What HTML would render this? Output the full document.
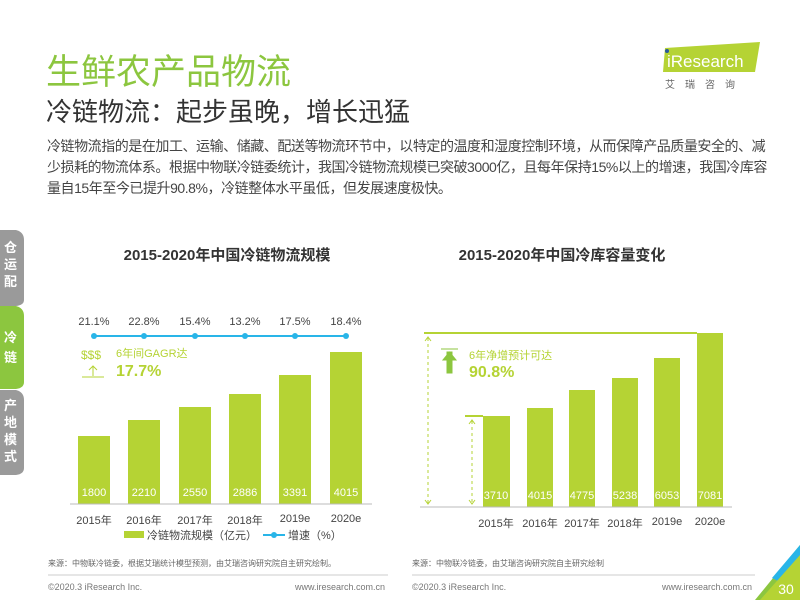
<!DOCTYPE html>
<html><head><meta charset="utf-8"><style>
body{margin:0;width:800px;height:600px;background:#fff;position:relative;overflow:hidden;font-family:"Liberation Sans","Noto Sans CJK SC",sans-serif;}
.a{position:absolute;white-space:nowrap}
</style></head><body>
<div class="a" style="left:46px;top:44px;font-size:35px;color:#8cc63f;">生鲜农产品物流</div>
<div class="a" style="left:46px;top:92px;font-size:26px;color:#333;">冷链物流：起步虽晚，增长迅猛</div>
<div class="a" style="left:47px;top:136px;font-size:14px;letter-spacing:-0.45px;color:#444;line-height:21px;">冷链物流指的是在加工、运输、储藏、配送等物流环节中，以特定的温度和湿度控制环境，从而保障产品质量安全的、减<br>少损耗的物流体系。根据中物联冷链委统计，我国冷链物流规模已突破3000亿，且每年保持15%以上的增速，我国冷库容<br>量自15年至今已提升90.8%，冷链整体水平虽低，但发展速度极快。</div>
<svg class="a" style="left:0;top:0" width="800" height="600">
<polygon points="665,48 760,42 755,72 663,72" fill="#b5d334"/>
<text x="667" y="67" font-size="17" fill="#fff" font-family="Liberation Sans">iResearch</text>
<circle cx="667" cy="51" r="2" fill="#2a5a9a"/>
<text x="665" y="88" font-size="10" fill="#666" letter-spacing="10">艾瑞咨询</text>
<path d="M0 230 H16 Q24 232 24 240 V300 Q24 305 16 306 H0Z" fill="#9a9a9a"/>
<path d="M0 306 H16 Q24 308 24 316 V382 Q24 388 16 389 H0Z" fill="#8cc63f"/>
<path d="M0 390 H16 Q24 392 24 400 V468 Q24 474 16 475 H0Z" fill="#9a9a9a"/>
<g font-size="13" fill="#fff" font-weight="bold">
<text x="4" y="252">仓</text><text x="4" y="269">运</text><text x="4" y="286">配</text>
<text x="4" y="342">冷</text><text x="4" y="362">链</text>
<text x="4" y="410">产</text><text x="4" y="427">地</text><text x="4" y="444">模</text><text x="4" y="461">式</text>
</g>
<text x="227" y="260" font-size="15" font-weight="bold" fill="#333" text-anchor="middle">2015-2020年中国冷链物流规模</text>
<g fill="#b5d334">
<rect x="78" y="436" width="32" height="68"/><rect x="128" y="420" width="32" height="84"/>
<rect x="179" y="407" width="32" height="97"/><rect x="229" y="394" width="32" height="110"/>
<rect x="279" y="375" width="32" height="129"/><rect x="330" y="352" width="32" height="152"/>
</g>
<line x1="70" y1="504" x2="372" y2="504" stroke="#bbb"/>
<g font-size="11" fill="#fff" text-anchor="middle">
<text x="94" y="496">1800</text><text x="144" y="496">2210</text><text x="195" y="496">2550</text><text x="245" y="496">2886</text><text x="295" y="496">3391</text><text x="346" y="496">4015</text>
</g>
<g font-size="11" fill="#444" text-anchor="middle">
<text x="94" y="524">2015年</text><text x="144" y="524">2016年</text><text x="195" y="524">2017年</text><text x="245" y="524">2018年</text><text x="295" y="522">2019e</text><text x="346" y="522">2020e</text>
<text x="94" y="325">21.1%</text><text x="144" y="325">22.8%</text><text x="195" y="325">15.4%</text><text x="245" y="325">13.2%</text><text x="295" y="325">17.5%</text><text x="346" y="325">18.4%</text>
</g>
<line x1="94" y1="336" x2="346" y2="336" stroke="#29b5e8" stroke-width="2"/>
<g fill="#29b5e8"><circle cx="94" cy="336" r="3"/><circle cx="144" cy="336" r="3"/><circle cx="195" cy="336" r="3"/><circle cx="245" cy="336" r="3"/><circle cx="295" cy="336" r="3"/><circle cx="346" cy="336" r="3"/></g>
<text x="81" y="359" font-size="12" fill="#b5d334">$$$</text>
<path d="M82 377 H104 M93 376 V366 M89 370 L93 366 L97 370" stroke="#b5d334" fill="none"/>
<text x="116" y="357" font-size="11" fill="#b5d334">6年间GAGR达</text>
<text x="116" y="376" font-size="16" font-weight="bold" fill="#b5d334">17.7%</text>
<rect x="124" y="531" width="20" height="7" fill="#b5d334"/>
<text x="147" y="539" font-size="11" fill="#444">冷链物流规模（亿元）</text>
<line x1="263" y1="535" x2="285" y2="535" stroke="#29b5e8" stroke-width="2"/><circle cx="274" cy="535" r="3" fill="#29b5e8"/>
<text x="288" y="539" font-size="11" fill="#444">增速（%）</text>
<text x="48" y="566" font-size="8" fill="#666">来源：中物联冷链委，根据艾瑞统计模型预测，由艾瑞咨询研究院自主研究绘制。</text>
<line x1="48" y1="575" x2="388" y2="575" stroke="#ccc"/>
<text x="48" y="590" font-size="9" fill="#777">©2020.3 iResearch Inc.</text>
<text x="385" y="590" font-size="9" fill="#777" text-anchor="end">www.iresearch.com.cn</text>
<text x="562" y="260" font-size="15" font-weight="bold" fill="#333" text-anchor="middle">2015-2020年中国冷库容量变化</text>
<line x1="424" y1="333" x2="697" y2="333" stroke="#b5d334" stroke-width="2"/>
<line x1="465" y1="416" x2="483" y2="416" stroke="#b5d334" stroke-width="2"/>
<g fill="#b5d334">
<rect x="483" y="416" width="27" height="91"/><rect x="527" y="408" width="26" height="99"/>
<rect x="569" y="390" width="26" height="117"/><rect x="612" y="378" width="26" height="129"/>
<rect x="654" y="358" width="26" height="149"/><rect x="697" y="333" width="26" height="174"/>
</g>
<line x1="420" y1="507" x2="732" y2="507" stroke="#bbb"/>
<g stroke="#b5d334" fill="none" stroke-dasharray="3,3"><line x1="428" y1="338" x2="428" y2="503"/><line x1="472" y1="421" x2="472" y2="503"/></g>
<g stroke="#b5d334" fill="none"><path d="M425 341 L428 337 L431 341 M425 500 L428 504 L431 500 M469 424 L472 420 L475 424 M469 500 L472 504 L475 500"/></g>
<path d="M441 349 H458 M447 352 H452 V373 H447Z M443 360 L449.5 352 L456 360Z" fill="#8cc63f" stroke="#8cc63f"/>
<text x="469" y="359" font-size="11" fill="#b5d334">6年净增预计可达</text>
<text x="469" y="377" font-size="16" font-weight="bold" fill="#b5d334">90.8%</text>
<g font-size="11" fill="#fff" text-anchor="middle">
<text x="496" y="499">3710</text><text x="540" y="499">4015</text><text x="582" y="499">4775</text><text x="625" y="499">5238</text><text x="667" y="499">6053</text><text x="710" y="499">7081</text>
</g>
<g font-size="11" fill="#444" text-anchor="middle">
<text x="496" y="527">2015年</text><text x="540" y="527">2016年</text><text x="582" y="527">2017年</text><text x="625" y="527">2018年</text><text x="667" y="525">2019e</text><text x="710" y="525">2020e</text>
</g>
<text x="412" y="566" font-size="8" fill="#666">来源：中物联冷链委，由艾瑞咨询研究院自主研究绘制</text>
<line x1="412" y1="575" x2="755" y2="575" stroke="#ccc"/>
<text x="412" y="590" font-size="9" fill="#777">©2020.3 iResearch Inc.</text>
<text x="752" y="590" font-size="9" fill="#777" text-anchor="end">www.iresearch.com.cn</text>
<polygon points="800,545 800,600 755,600" fill="#8cc63f"/>
<polygon points="800,545 772,578 780,582 800,562" fill="#29b5e8"/>
<polygon points="800,555 760,600 800,600" fill="#b5d334"/>
<text x="786" y="594" font-size="14" fill="#fff" text-anchor="middle">30</text>
</svg>
</body></html>
